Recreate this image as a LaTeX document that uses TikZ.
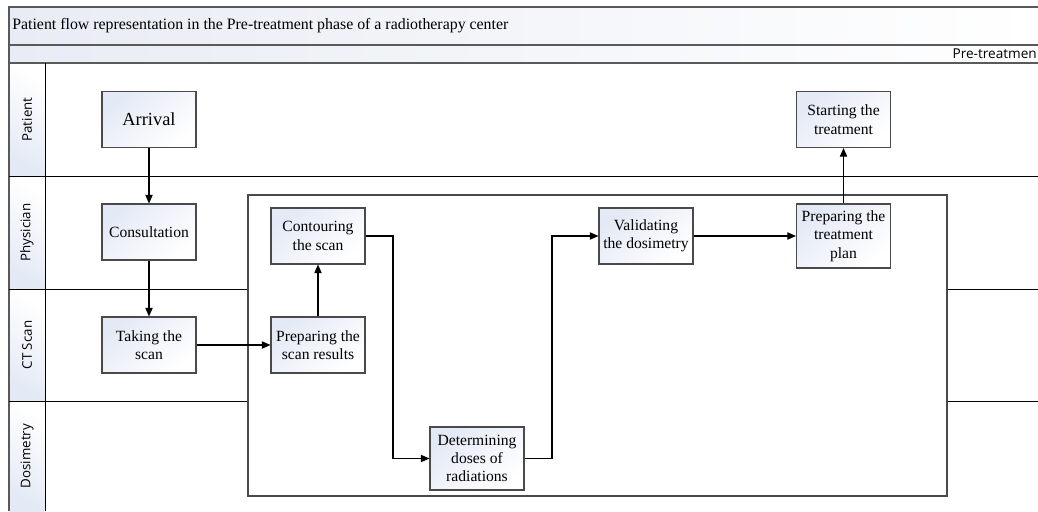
\documentclass[tikz,border=0pt]{standalone}
\usepackage{fontspec}
\setmainfont{Liberation Serif}
\newfontfamily\lanefont{Open Sans}
\usetikzlibrary{arrows.meta}
\definecolor{lineg}{HTML}{5A5A5A}
\definecolor{boxb}{HTML}{4A4A4A}
\definecolor{shadeb}{HTML}{E3E9F5}
\definecolor{hdrb}{HTML}{E8ECF4}
\tikzset{
  procbox/.style={draw=boxb, line width=0.8pt, top color=shadeb, bottom color=white, shading angle=40,
    minimum width=70.5pt, minimum height=42pt, inner sep=1pt, align=center,
    font=\fontsize{11.7}{13.8}\selectfont},
  flow/.style={draw=black, line width=0.8pt, -{Triangle[length=6.5pt,width=5.5pt]}},
  lanelabel/.style={rotate=90, font=\lanefont\fontsize{10}{12}\selectfont, inner sep=0pt},
  laneline/.style={draw=black, line width=0.75pt},
  hdrline/.style={draw=lineg, line width=0.9pt}
}
\begin{document}
\begin{tikzpicture}[x=0.75pt,y=-0.75pt]
\useasboundingbox (0,0) rectangle (1038,511);
\clip (0,0) rectangle (1038,511);
% header bands
\shade[left color=hdrb, right color=white] (9,7) rectangle (1038,45);
\shade[left color=hdrb, right color=white] (9,45) rectangle (1038,63);
\node[anchor=west, font=\fontsize{11.9}{13}\selectfont, inner sep=0pt] (title) at (12,26) {Patient flow representation in the Pre-treatment phase of a radiotherapy center};
\node[anchor=base east, font=\lanefont\fontsize{10.2}{12}\selectfont, inner sep=0pt] (phase) at (1037,58) {Pre-treatmen};
% lane label cells
\foreach \ya/\yb in {63/176,176/289,289/401,401/511}{
  \shade[top color=white, bottom color=shadeb, shading angle=-30] (9,\ya) rectangle (45,\yb);
}
\node[lanelabel] (lp) at (27,119.5) {Patient};
\node[lanelabel] (lph) at (27,232.5) {Physician};
\node[lanelabel] (lct) at (27,345) {CT Scan};
\node[lanelabel] (ld) at (27,456) {Dosimetry};
% frame lines
\draw[hdrline] (1038,7) -- (9,7) -- (9,511);
\draw[hdrline] (9,45) -- (1038,45);
\draw[hdrline] (9,63) -- (1038,63);
\draw[laneline] (45,63) -- (45,511);
\draw[laneline] (9,176) -- (1038,176);
\draw[laneline] (9,289) -- (248,289);
\draw[laneline] (947,289) -- (1038,289);
\draw[laneline] (9,401) -- (248,401);
\draw[laneline] (947,401) -- (1038,401);
% big container
\draw[draw=boxb, line width=0.9pt] (248,195) rectangle (947,496);
% process boxes
\node[procbox, font=\fontsize{13.8}{16}\selectfont] (arr) at (149,119.5) {Arrival};
\node[procbox] (cons) at (149,232) {Consultation};
\node[procbox] (take) at (149,345) {Taking the\\scan};
\node[procbox] (prep) at (318,345) {Preparing the\\scan results};
\node[procbox] (cont) at (318,236) {Contouring\\the scan};
\node[procbox, minimum height=47.25pt] (det) at (477,458.5) {Determining\\doses of\\radiations};
\node[procbox] (val) at (646,236) {Validating\\the dosimetry};
\node[procbox, minimum height=48pt] (ptp) at (843.5,236) {Preparing the\\treatment\\plan};
\node[procbox] (start) at (843.5,119.5) {Starting the\\treatment};
% connectors
\coordinate (k1) at (393,236);
\coordinate (k2) at (552,458.5);
\draw[flow] (arr) -- (cons);
\draw[flow] (cons) -- (take);
\draw[flow] (take) -- (prep);
\draw[flow] (prep) -- (cont);
\draw[flow] (cont.east) -- (k1) |- (det.west);
\draw[flow] (det.east) -- (k2) |- (val.west);
\draw[flow] (val) -- (ptp);
\draw[flow] (ptp) -- (start);
\end{tikzpicture}
\end{document}
